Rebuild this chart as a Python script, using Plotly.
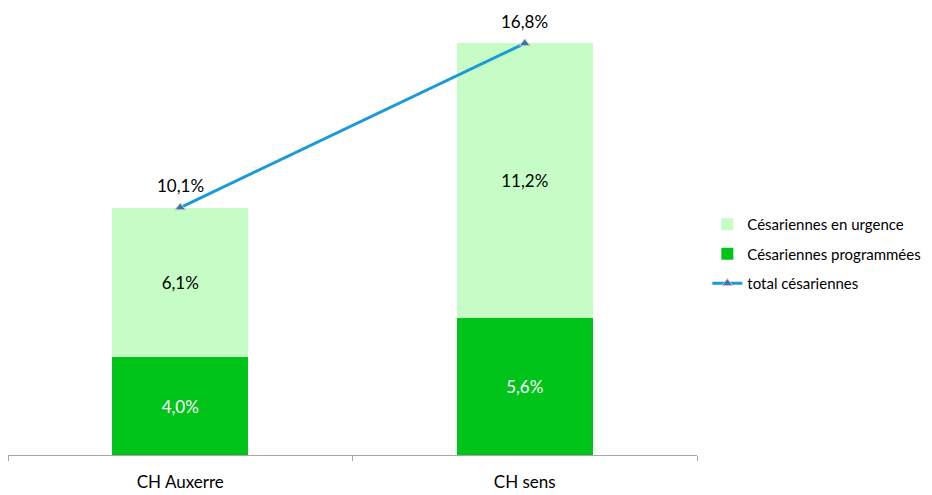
import plotly.graph_objects as go

categories = ["CH Auxerre", "CH sens"]
programmees = [4.0, 5.6]
urgence = [6.1, 11.2]
total = [10.1, 16.8]

FONT = "Lato"

fig = go.Figure()
fig.add_trace(go.Bar(
    x=categories, y=programmees, name="Césariennes programmées",
    marker=dict(color="#00c41a", line=dict(width=0)),
    texttemplate="%{y:.1f}%", textposition="inside", insidetextanchor="middle",
    textfont=dict(color="white", size=17, family=FONT), legendrank=2,
    legendgroup="b",
))
fig.add_trace(go.Bar(
    x=categories, y=urgence, name="Césariennes en urgence",
    marker=dict(color="#c6fdc6", line=dict(width=0)),
    texttemplate="%{y:.1f}%", textposition="inside", insidetextanchor="middle",
    textfont=dict(color="black", size=17, family=FONT), legendrank=1,
    legendgroup="a",
))
fig.add_trace(go.Scatter(
    x=categories, y=total, name="total césariennes", mode="lines+markers",
    line=dict(color="#1b9ad8", width=3),
    marker=dict(symbol="triangle-up", size=9, color="#1b7fc4",
                line=dict(color="#f4b8a8", width=1)),
    legendrank=3, legendgroup="c",
))
for c, v in zip(categories, total):
    fig.add_annotation(
        x=c, y=v, text=f"{v:.1f}%".replace(".", ","), showarrow=False,
        yshift=22, font=dict(color="black", size=17, family=FONT),
    )

fig.update_layout(
    width=932, height=495,
    margin=dict(l=0, r=243, t=6, b=48),
    barmode="stack", bargap=0.606,
    separators=", ",
    plot_bgcolor="white", paper_bgcolor="white",
    font=dict(family=FONT, size=17, color="black"),
    showlegend=True,
    legend=dict(x=1.015, y=0.456, xanchor="left", yanchor="middle",
                font=dict(size=15, family=FONT), traceorder="grouped",
                tracegroupgap=7, itemwidth=30, bgcolor="rgba(0,0,0,0)"),
)
fig.update_xaxes(
    type="category", range=[-0.5, 1.5], showline=True, linecolor="#a6a6a6",
    linewidth=1, ticks="outside", tickson="boundaries", ticklen=5,
    tickcolor="#a6a6a6", showgrid=False, tickfont=dict(size=17, family=FONT),
    ticklabelstandoff=12,
)
fig.update_yaxes(range=[0, 18], visible=False, showgrid=False, zeroline=False)

fig.write_html("out.html")
